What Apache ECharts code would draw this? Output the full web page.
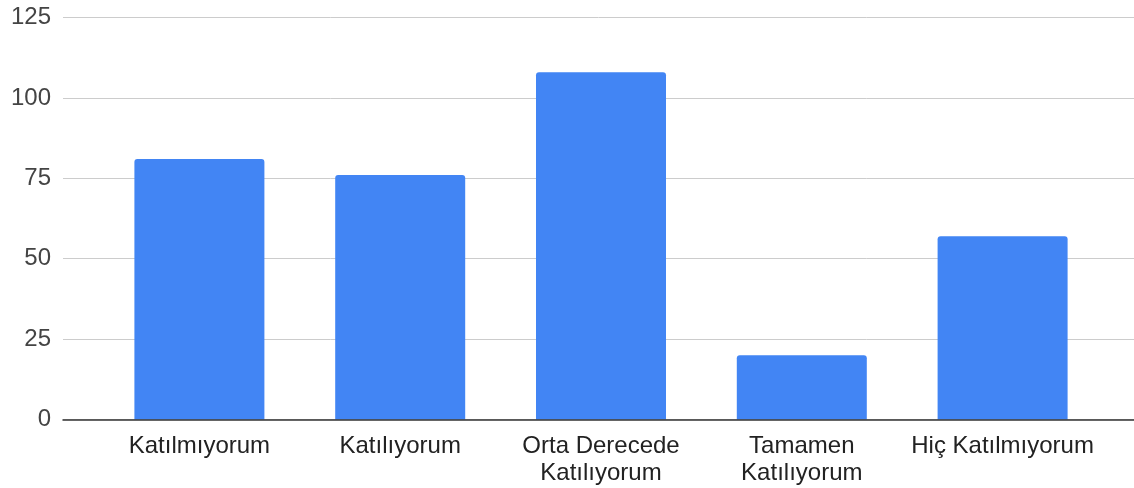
<!DOCTYPE html>
<html>
<head>
<meta charset="utf-8">
<script src="https://cdn.jsdelivr.net/npm/echarts@6/dist/echarts.min.js"></script>
<style>
html,body{margin:0;padding:0;background:#fff;}
#chart{width:1134px;height:488px;}
</style>
</head>
<body>
<div id="chart"></div>
<script>
const categories = ['Katılmıyorum', 'Katılıyorum', 'Orta Derecede\nKatılıyorum', 'Tamamen\nKatılıyorum', 'Hiç Katılmıyorum'];
const values = [81, 76, 108, 20, 57];
const yTicks = { min: 0, max: 125, interval: 25 };

const font = '"Liberation Sans", Arial, sans-serif';
const chart = echarts.init(document.getElementById('chart'), null, { renderer: 'canvas' });
chart.setOption({
  animation: false,
  backgroundColor: '#ffffff',
  grid: [
    { left: 63, right: 0, top: 17.5, bottom: 68.5 },
    { left: 99, right: 31, top: 17.5, bottom: 68.5 }
  ],
  xAxis: [
    {
      gridIndex: 0, type: 'category', data: categories,
      axisLine: { show: true, lineStyle: { color: '#333333', width: 1.5 } },
      axisTick: { show: false }, axisLabel: { show: false }, splitLine: { show: false }, z: 5
    },
    {
      gridIndex: 1, type: 'category', data: categories,
      axisLine: { show: false }, axisTick: { show: false },
      axisLabel: { color: '#222222', fontSize: 24, fontFamily: font, lineHeight: 27, margin: 13, interval: 0 }
    }
  ],
  yAxis: [
    {
      gridIndex: 0, type: 'value', min: yTicks.min, max: yTicks.max, interval: yTicks.interval,
      axisLine: { show: false }, axisTick: { show: false },
      axisLabel: { color: '#444444', fontSize: 24, fontFamily: font, margin: 12 },
      splitLine: { lineStyle: { color: '#cccccc', width: 1 } }
    },
    {
      gridIndex: 1, type: 'value', min: yTicks.min, max: yTicks.max, interval: yTicks.interval,
      show: false, splitLine: { show: false }
    }
  ],
  series: [{
    type: 'bar', xAxisIndex: 1, yAxisIndex: 1, data: values,
    barWidth: 130,
    itemStyle: { color: '#4285f4', borderRadius: [3, 3, 0, 0] }
  }]
});
</script>
</body>
</html>
